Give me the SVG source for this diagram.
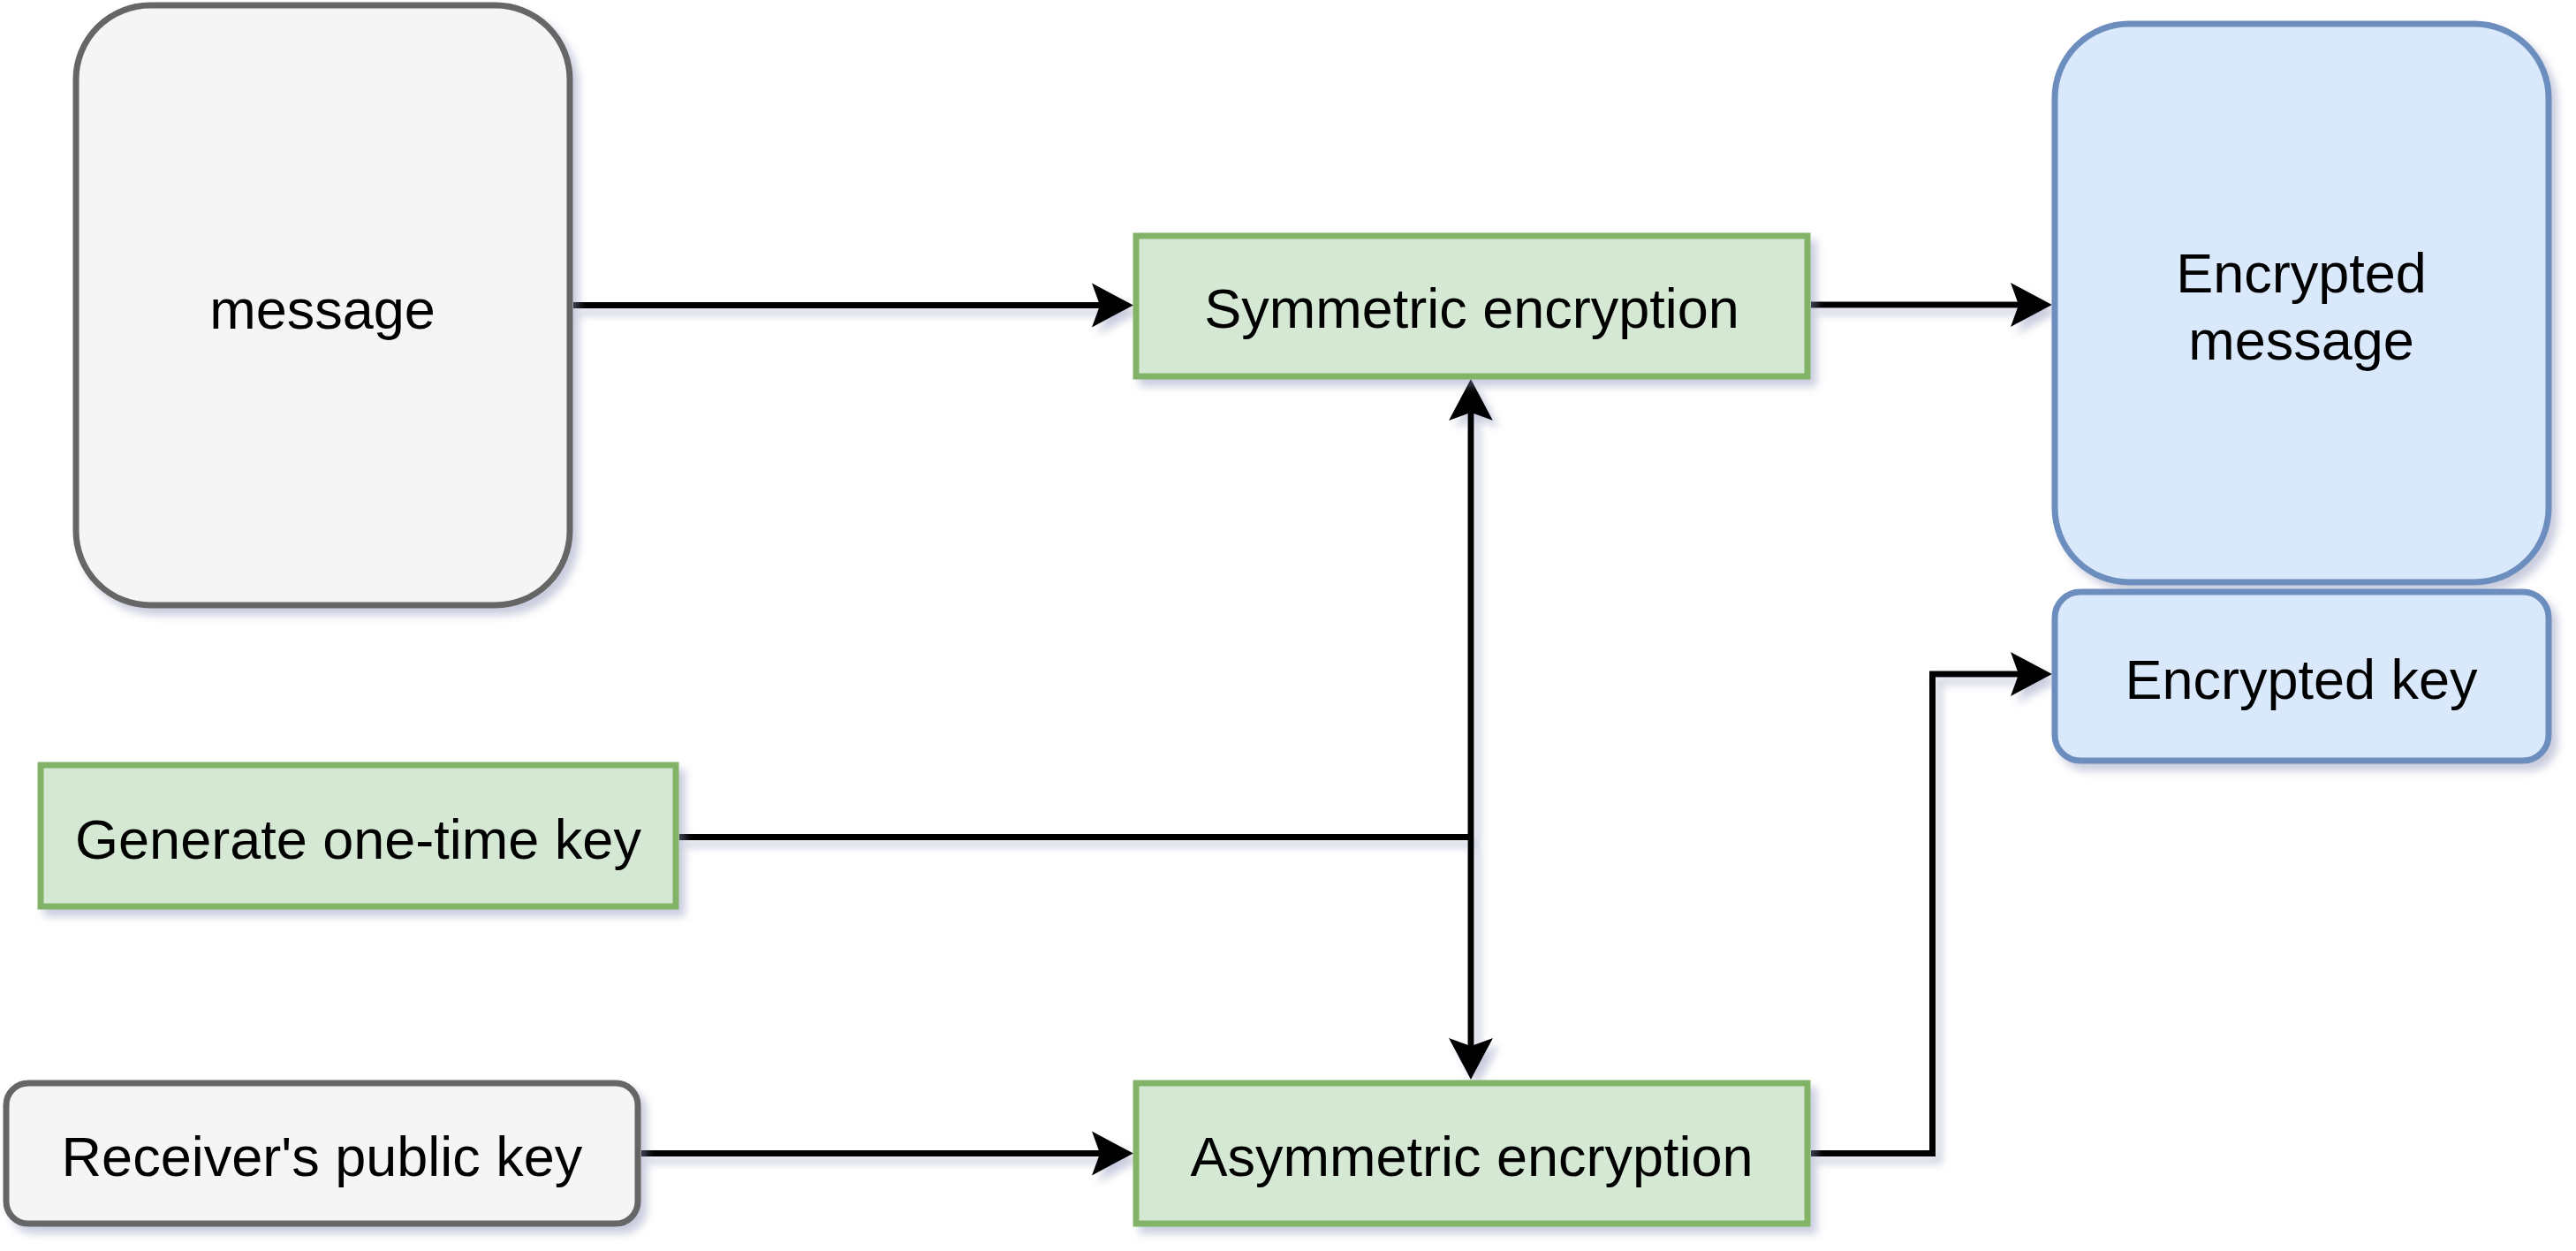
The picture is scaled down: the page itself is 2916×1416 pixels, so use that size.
<svg xmlns="http://www.w3.org/2000/svg" width="2916" height="1416" viewBox="0 0 2916 1416">
  <defs>
    <filter id="sh" x="-10%" y="-10%" width="130%" height="140%">
      <feDropShadow dx="7" dy="8" stdDeviation="5" flood-color="#8a8fb5" flood-opacity="0.45"/>
    </filter>
    <marker id="arr" markerUnits="userSpaceOnUse" markerWidth="50" markerHeight="52" refX="9" refY="25" orient="auto-start-reverse" overflow="visible">
      <path d="M47,25 L0,0 L9,25 L0,50 Z" fill="#000"/>
    </marker>
  </defs>
  <style>
    .green { fill: #d5e8d4; stroke: #82b366; stroke-width: 7; }
    .gray { fill: #f5f5f5; stroke: #666666; stroke-width: 7; }
    .blue { fill: #dae8fc; stroke: #6c8ebf; stroke-width: 7; }
    .lbl { font-family: "Liberation Sans", Arial, sans-serif; font-size: 63px; fill: #000; text-anchor: middle; }
    .edge { fill: none; stroke: #000; stroke-width: 7; }
  </style>
  <rect width="2916" height="1416" fill="#ffffff"/>

  <g id="connectors" filter="url(#sh)">
    <path class="edge" d="M649,345.5 L1245,345.5" marker-end="url(#arr)"/>
    <path class="edge" d="M2050,345 L2285,345" marker-end="url(#arr)"/>
    <path class="edge" d="M1665,467 L1665,1184" marker-start="url(#arr)" marker-end="url(#arr)"/>
    <path class="edge" d="M769,947.5 L1665,947.5"/>
    <path class="edge" d="M726,1305.5 L1245,1305.5" marker-end="url(#arr)"/>
    <path class="edge" d="M2050,1305.5 L2187.5,1305.5 L2187.5,763 L2285,763" marker-end="url(#arr)"/>
  </g>

  <g id="message" filter="url(#sh)">
    <rect class="gray" x="86" y="6" width="559" height="679" rx="84" ry="84"/>
    <text class="lbl" x="365" y="372">message</text>
  </g>

  <g id="symmetric" filter="url(#sh)">
    <rect class="green" x="1286" y="267" width="760" height="159"/>
    <text class="lbl" x="1666" y="371">Symmetric encryption</text>
  </g>

  <g id="encrypted-message" filter="url(#sh)">
    <rect class="blue" x="2326" y="27" width="559" height="632" rx="84" ry="84"/>
    <text class="lbl" x="2605" y="331">Encrypted</text>
    <text class="lbl" x="2605" y="407">message</text>
  </g>

  <g id="encrypted-key" filter="url(#sh)">
    <rect class="blue" x="2326" y="670" width="559" height="191" rx="29" ry="29"/>
    <text class="lbl" x="2605" y="791">Encrypted key</text>
  </g>

  <g id="generate-key" filter="url(#sh)">
    <rect class="green" x="46" y="866" width="719" height="160"/>
    <text class="lbl" x="405.5" y="972">Generate one-time key</text>
  </g>

  <g id="receiver-key" filter="url(#sh)">
    <rect class="gray" x="7" y="1226" width="715" height="159" rx="25" ry="25"/>
    <text class="lbl" x="364.5" y="1331">Receiver's public key</text>
  </g>

  <g id="asymmetric" filter="url(#sh)">
    <rect class="green" x="1286" y="1226" width="760" height="159"/>
    <text class="lbl" x="1666" y="1331">Asymmetric encryption</text>
  </g>
</svg>
